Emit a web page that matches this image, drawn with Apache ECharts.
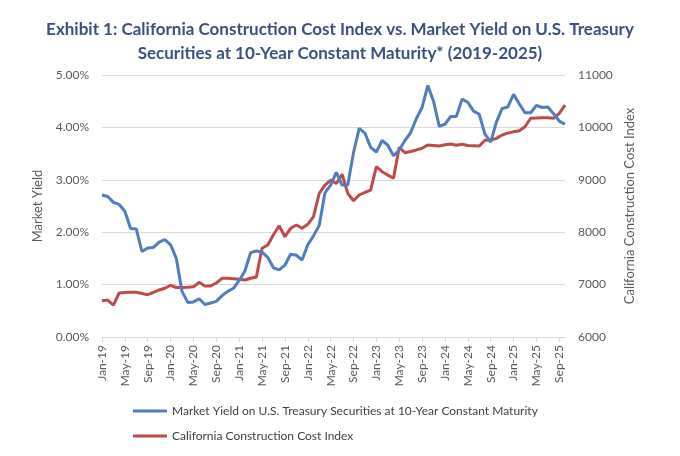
<!doctype html>
<html>
<head>
<meta charset="utf-8">
<title>CCCI vs 10-Year Treasury</title>
<style>
  html, body { margin: 0; padding: 0; background: #fff; }
  #main { width: 680px; height: 456px; }
</style>
</head>
<body>
<div id="main"></div>
<script src="https://cdn.jsdelivr.net/npm/echarts@6/dist/echarts.min.js"></script>
<script>
var monthNames = ['Jan', 'Feb', 'Mar', 'Apr', 'May', 'Jun', 'Jul', 'Aug', 'Sep', 'Oct', 'Nov', 'Dec'];
var years = ['19', '20', '21', '22', '23', '24', '25'];

// Jan-19 .. Oct-25
var months = [];
years.forEach(function (y) {
    monthNames.forEach(function (m) {
        months.push(m + '-' + y);
    });
});
months = months.slice(0, 82);

var yieldLabel = 'Market Yield on U.S. Treasury Securities at 10-Year Constant Maturity';
var ccciLabel = 'California Construction Cost Index';

// percent
var treasuryYield = [
    2.71, 2.68, 2.57, 2.53, 2.40, 2.07, 2.06, 1.63, 1.70, 1.71, 1.81, 1.86,
    1.76, 1.50, 0.87, 0.66, 0.67, 0.73, 0.62, 0.65, 0.68, 0.79, 0.87, 0.93,
    1.08, 1.26, 1.61, 1.64, 1.62, 1.52, 1.32, 1.28, 1.37, 1.58, 1.56, 1.47,
    1.76, 1.93, 2.13, 2.75, 2.90, 3.14, 2.90, 2.90, 3.52, 3.98, 3.89, 3.62,
    3.53, 3.75, 3.66, 3.46, 3.57, 3.75, 3.90, 4.17, 4.38, 4.80, 4.50, 4.02,
    4.06, 4.21, 4.21, 4.54, 4.48, 4.31, 4.25, 3.87, 3.72, 4.10, 4.36, 4.39,
    4.63, 4.45, 4.28, 4.28, 4.42, 4.38, 4.39, 4.26, 4.12, 4.06
];

var costIndex = [
    6690, 6705, 6610, 6840, 6850, 6855, 6853, 6830, 6807, 6850, 6897, 6930,
    6987, 6945, 6945, 6950, 6960, 7043, 6973, 6975, 7030, 7120, 7120, 7113,
    7100, 7088, 7120, 7145, 7693, 7756, 7950, 8124, 7914, 8074, 8137, 8074,
    8150, 8296, 8742, 8900, 8996, 8930, 9105, 8742, 8601, 8710, 8760, 8805,
    9250, 9155, 9090, 9029, 9620, 9517, 9540, 9570, 9601, 9664, 9655, 9645,
    9670, 9683, 9659, 9677, 9655, 9651, 9645, 9755, 9760, 9790, 9855, 9890,
    9918, 9937, 10013, 10174, 10180, 10185, 10185, 10174, 10269, 10427
];

var chart = echarts.init(document.getElementById('main'));

var axisText = { color: '#595959', fontFamily: 'Lato', fontSize: 12 };

chart.setOption({
    backgroundColor: '#ffffff',
    animation: false,
    title: {
        text: 'Exhibit 1: California Construction Cost Index vs. Market Yield on U.S. Treasury\nSecurities at 10-Year Constant Maturity* (2019-2025)',
        left: 'center',
        top: 13,
        textStyle: {
            color: '#3b4f81',
            fontFamily: 'Lato',
            fontWeight: 'bold',
            fontSize: 17,
            lineHeight: 24,
            align: 'center'
        }
    },
    legend: {
        orient: 'vertical',
        left: 128,
        top: 400,
        itemWidth: 34,
        itemHeight: 3,
        itemGap: 13,
        icon: 'rect',
        textStyle: { color: '#404040', fontFamily: 'Lato', fontSize: 12 },
        data: [yieldLabel, ccciLabel]
    },
    grid: {
        left: 102,
        right: 115,
        top: 75,
        bottom: 119,
        containLabel: false
    },
    xAxis: {
        type: 'category',
        data: months,
        boundaryGap: false,
        axisLine: { lineStyle: { color: '#d9d9d9' } },
        axisTick: {
            alignWithLabel: true,
            interval: 3,
            length: 5,
            lineStyle: { color: '#d9d9d9' }
        },
        axisLabel: Object.assign({ interval: 3, rotate: 90, margin: 8, fontSize: 12 }, axisText),
        splitLine: { show: false }
    },
    yAxis: [{
        type: 'value',
        min: 0,
        max: 5,
        interval: 1,
        name: 'Market Yield',
        nameLocation: 'middle',
        nameRotate: 90,
        nameGap: 58,
        nameTextStyle: { color: '#595959', fontFamily: 'Lato', fontSize: 13 },
        axisLine: { show: false },
        axisTick: { show: false },
        axisLabel: Object.assign({
            margin: 13,
            formatter: function (v) { return v.toFixed(2) + '%'; }
        }, axisText),
        splitLine: { lineStyle: { color: '#d9d9d9', width: 1 } }
    }, {
        type: 'value',
        min: 6000,
        max: 11000,
        interval: 1000,
        position: 'right',
        name: 'California Construction Cost Index',
        nameLocation: 'middle',
        nameRotate: 90,
        nameGap: 56,
        nameTextStyle: { color: '#595959', fontFamily: 'Lato', fontSize: 13 },
        axisLine: { show: false },
        axisTick: { show: false },
        axisLabel: Object.assign({
            margin: 13,
            formatter: function (v) { return String(v); }
        }, axisText),
        splitLine: { show: false }
    }],
    series: [{
        name: yieldLabel,
        type: 'line',
        yAxisIndex: 0,
        data: treasuryYield,
        symbol: 'none',
        lineStyle: { color: '#4f7dbd', width: 3 },
        itemStyle: { color: '#4f7dbd' },
        z: 3
    }, {
        name: ccciLabel,
        type: 'line',
        yAxisIndex: 1,
        data: costIndex,
        symbol: 'none',
        lineStyle: { color: '#be4b48', width: 3 },
        itemStyle: { color: '#be4b48' },
        z: 2
    }]
});

window.onresize = chart.resize;
</script>
</body>
</html>
